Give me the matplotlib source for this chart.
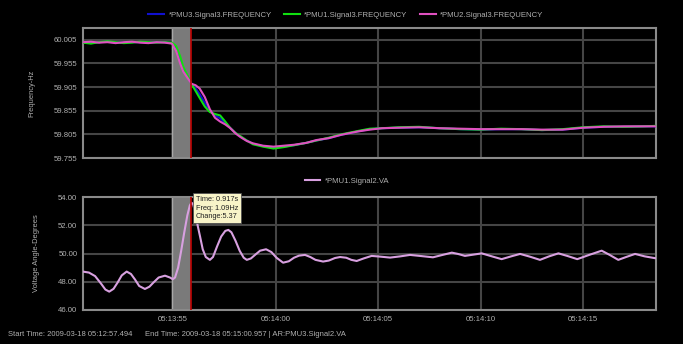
import matplotlib
matplotlib.use("Agg")
import matplotlib.pyplot as plt
from matplotlib.ticker import FuncFormatter, FixedLocator

plt.rcParams['font.family'] = ['Liberation Sans', 'DejaVu Sans']

# ---------------- data ----------------
# time in seconds after 05:13:50
freq_t = [0.6, 1.0, 1.4, 1.8, 2.2, 2.6, 3.0, 3.4, 3.8, 4.2, 4.6, 4.95, 5.15, 5.35,
          5.5, 5.7, 5.9, 6.1, 6.3, 6.55, 6.8, 7.05, 7.3, 7.55, 7.8, 8.05, 8.3, 8.6,
          8.9, 9.4, 9.9, 10.4, 10.9, 11.5, 12.0, 12.6, 13.2, 14.0, 14.6, 15.2, 16.0,
          17.0, 18.0, 19.0, 20.0, 21.0, 22.0, 23.0, 24.0, 25.0, 26.0, 27.0, 28.0, 28.55]

pmu2_freq = [60.000, 60.001, 59.999, 60.000, 59.998, 60.000, 60.001, 59.999, 59.998, 60.000,
             59.999, 59.997, 59.982, 59.955, 59.938, 59.925, 59.912, 59.909, 59.902, 59.884,
             59.858, 59.840, 59.832, 59.826, 59.818, 59.807, 59.799, 59.791, 59.786, 59.781,
             59.779, 59.781, 59.783, 59.787, 59.793, 59.797, 59.804, 59.811, 59.815, 59.818,
             59.819, 59.820, 59.818, 59.817, 59.816, 59.816, 59.816, 59.815, 59.815, 59.819,
             59.821, 59.822, 59.822, 59.822]

pmu1_freq = [59.999, 59.997, 60.000, 60.002, 60.000, 59.998, 59.999, 60.001, 60.000, 59.999,
             60.000, 59.999, 59.992, 59.970, 59.948, 59.930, 59.912, 59.897, 59.882, 59.864,
             59.852, 59.848, 59.845, 59.832, 59.818, 59.808, 59.801, 59.792, 59.784, 59.779,
             59.775, 59.778, 59.782, 59.787, 59.792, 59.798, 59.805, 59.812, 59.817, 59.818,
             59.820, 59.821, 59.818, 59.816, 59.815, 59.817, 59.816, 59.814, 59.816, 59.820,
             59.822, 59.821, 59.822, 59.823]

pmu3_freq = [60.000, 59.998, 60.000, 60.001, 59.999, 59.999, 60.000, 60.000, 59.999, 60.000,
             60.000, 59.998, 59.988, 59.962, 59.944, 59.928, 59.912, 59.902, 59.890, 59.872,
             59.855, 59.845, 59.839, 59.829, 59.818, 59.808, 59.800, 59.792, 59.785, 59.780,
             59.777, 59.779, 59.782, 59.787, 59.792, 59.797, 59.804, 59.811, 59.816, 59.818,
             59.819, 59.820, 59.818, 59.816, 59.815, 59.816, 59.816, 59.814, 59.815, 59.819,
             59.821, 59.821, 59.822, 59.822]

angle_t = [0.6, 0.9, 1.2, 1.5, 1.7, 1.89, 2.1, 2.3, 2.5, 2.74, 2.95, 3.15, 3.35, 3.63, 3.85,
           4.05, 4.3, 4.61, 4.85, 4.99, 5.1, 5.25, 5.4, 5.55, 5.7, 5.82, 5.9, 5.98, 6.1,
           6.2, 6.32, 6.45, 6.6, 6.8, 6.95, 7.15, 7.35, 7.55, 7.7, 7.85, 8.05, 8.25, 8.45,
           8.6, 8.8, 9.0, 9.25, 9.54, 9.8, 10.05, 10.37, 10.65, 10.9, 11.15, 11.44, 11.7,
           11.95, 12.32, 12.6, 12.9, 13.15, 13.45, 13.7, 13.96, 14.3, 14.69, 15.1, 15.59,
           16.1, 16.56, 17.1, 17.68, 18.15, 18.6, 18.9, 19.24, 19.65, 20.06, 20.55, 21.03,
           21.5, 21.93, 22.4, 22.9, 23.35, 23.8, 24.25, 24.72, 25.3, 25.91, 26.3, 26.72,
           27.1, 27.54, 28.0, 28.51]

pmu1_angle = [48.72, 48.65, 48.40, 47.85, 47.45, 47.30, 47.50, 47.95, 48.45, 48.72, 48.55,
              48.15, 47.70, 47.49, 47.65, 47.95, 48.30, 48.43, 48.30, 48.18, 48.30, 49.00,
              50.20, 51.50, 52.70, 53.40, 53.60, 53.50, 52.80, 52.00, 51.20, 50.30, 49.75,
              49.55, 49.75, 50.50, 51.20, 51.60, 51.67, 51.50, 50.90, 50.20, 49.70, 49.55,
              49.65, 49.90, 50.20, 50.30, 50.10, 49.70, 49.35, 49.45, 49.70, 49.85, 49.90,
              49.75, 49.55, 49.43, 49.50, 49.68, 49.75, 49.70, 49.55, 49.47, 49.65, 49.83,
              49.78, 49.71, 49.80, 49.90, 49.82, 49.73, 49.90, 50.06, 49.97, 49.83, 49.92,
              50.01, 49.80, 49.60, 49.80, 49.97, 49.78, 49.55, 49.80, 50.01, 49.82, 49.60,
              49.90, 50.20, 49.90, 49.55, 49.75, 49.97, 49.80, 49.67]

freq_ticks = [59.755, 59.805, 59.855, 59.905, 59.955, 60.005]
angle_ticks = [46.0, 48.0, 50.0, 52.0, 54.0]
time_ticks = [5, 10, 15, 20, 25]
time_labels = ["05:13:55", "05:14:00", "05:14:05", "05:14:10", "05:14:15"]

band_start, band_end = 4.95, 5.83
marker_t = 5.88

# ---------------- figure ----------------
W, H = 683, 344
fig = plt.figure(figsize=(W / 100, H / 100), dpi=100, facecolor='black')

def frac(x0, y0, x1, y1):
    return [x0 / W, 1 - y1 / H, (x1 - x0) / W, (y1 - y0) / H]

ax1 = fig.add_axes(frac(83, 28, 656, 158))
ax2 = fig.add_axes(frac(83, 197, 656, 310))

grid_c = '#454545'
spine_c = '#8a8a8a'
txt_c = '#b0b0b0'

for ax in (ax1, ax2):
    ax.set_facecolor('black')
    ax.set_xlim(0.61, 28.56)
    for s in ax.spines.values():
        s.set_color(spine_c)
        s.set_linewidth(1.5)
    ax.xaxis.set_major_locator(FixedLocator(time_ticks))
    ax.grid(True, color=grid_c, linewidth=1.5)
    ax.set_axisbelow(True)
    ax.tick_params(length=0, colors=txt_c, labelsize=5.6, pad=4)
    ax.axvspan(band_start, band_end, color='#7a7a7a', zorder=1.5)
    ax.axvline(band_start, color='#a8a8a8', linewidth=1.0, zorder=1.6)
    ax.axvline(marker_t, color='#bb0000', linewidth=1.2, zorder=4)

# top plot
ax1.set_ylim(59.755, 60.030)
ax1.yaxis.set_major_locator(FixedLocator(freq_ticks))
ax1.yaxis.set_major_formatter(FuncFormatter(lambda v, p: f"{v:.3f}"))
ax1.set_xticklabels([])
ax1.plot(freq_t, pmu3_freq, color='#1010d0', linewidth=1.5, zorder=3,
         label='*PMU3.Signal3.FREQUENCY')
ax1.plot(freq_t, pmu1_freq, color='#10e010', linewidth=1.5, zorder=3.1,
         label='*PMU1.Signal3.FREQUENCY')
ax1.plot(freq_t, pmu2_freq, color='#e050c0', linewidth=1.5, zorder=3.2,
         label='*PMU2.Signal3.FREQUENCY')
ax1.set_ylabel('Frequency-Hz', color=txt_c, fontsize=5.4, labelpad=13)
ax1.legend(loc='center', bbox_to_anchor=(346 / W, 1 - 15 / H),
           bbox_transform=fig.transFigure, ncol=3, frameon=False,
           fontsize=5.6, labelcolor=txt_c, handlelength=2.0,
           columnspacing=1.6, borderaxespad=0, handletextpad=0.6)

# bottom plot
ax2.set_ylim(46.0, 54.0)
ax2.yaxis.set_major_locator(FixedLocator(angle_ticks))
ax2.yaxis.set_major_formatter(FuncFormatter(lambda v, p: f"{v:.2f}"))
ax2.xaxis.set_major_formatter(FuncFormatter(
    lambda v, p: time_labels[time_ticks.index(int(round(v)))] if int(round(v)) in time_ticks else ""))
ax2.plot(angle_t, pmu1_angle, color='#d8a0e0', linewidth=1.5, zorder=3,
         label='*PMU1.Signal2.VA')
ax2.set_ylabel('Voltage Angle-Degrees', color=txt_c, fontsize=5.4, labelpad=13)
ax2.legend(loc='center', bbox_to_anchor=(347 / W, 1 - 181 / H),
           bbox_transform=fig.transFigure, frameon=False,
           fontsize=5.6, labelcolor=txt_c, handlelength=2.0,
           borderaxespad=0, handletextpad=0.6)

# tooltip
fig.text(196 / W, 1 - 208 / H, "Time: 0.917s\nFreq: 1.09Hz\nChange:5.37",
         fontsize=5.3, color='#202020', va='center', ha='left', linespacing=1.3,
         bbox=dict(boxstyle='square,pad=0.35', facecolor='#f8f4c8',
                   edgecolor='#505050', linewidth=0.6), zorder=10)

# footer
fig.text(8 / W, 1 - 334 / H, "Start Time: 2009-03-18 05:12:57.494",
         fontsize=5.5, color=txt_c, va='center', ha='left')
fig.text(145 / W, 1 - 334 / H, "End Time: 2009-03-18 05:15:00.957 | AR:PMU3.Signal2.VA",
         fontsize=5.5, color=txt_c, va='center', ha='left')

fig.savefig('out.png', dpi=100, facecolor='black')
